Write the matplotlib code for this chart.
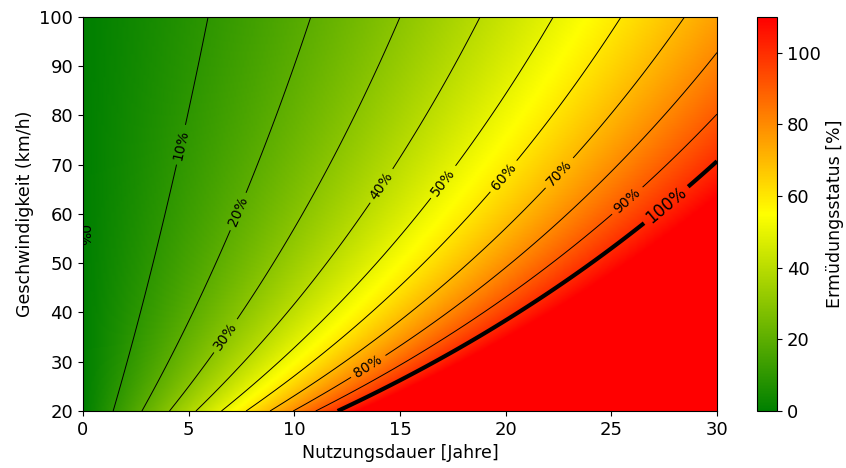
import numpy as np
import matplotlib
matplotlib.use("Agg")
import matplotlib.pyplot as plt
from matplotlib.colors import LinearSegmentedColormap

# year at which 10 % and 70 % fatigue is reached, per speed
speed_kmh = np.array([20, 40, 60, 80, 100])
years_at_10pct = np.array([1.43, 2.70, 3.88, 4.98, 5.90])
years_at_70pct = np.array([8.85, 15.6, 20.35, 25.0, 28.6])

thin_levels = [0, 10, 20, 30, 40, 50, 60, 70, 80, 90]
limit_level = [100]
xticks = [0, 5, 10, 15, 20, 25, 30]
yticks = [20, 30, 40, 50, 60, 70, 80, 90, 100]

# damage = a(v)*t + b(v)*t^2, coefficients solved from the two read levels
a_coef = []
b_coef = []
for t1, t2 in zip(years_at_10pct, years_at_70pct):
    A = np.array([[t1, t1 ** 2], [t2, t2 ** 2]])
    a, b = np.linalg.solve(A, [10.0, 70.0])
    a_coef.append(a)
    b_coef.append(b)

# smooth curve over speed (log-log)
pa = np.polyfit(np.log(speed_kmh), np.log(a_coef), 2)
pb = np.polyfit(np.log(speed_kmh), np.log(b_coef), 2)

t = np.linspace(0, 30, 301)
v = np.linspace(20, 100, 321)
T, V = np.meshgrid(t, v)
Z = np.exp(np.polyval(pa, np.log(V))) * T + np.exp(np.polyval(pb, np.log(V))) * T ** 2

cmap = LinearSegmentedColormap.from_list("gyr", ["green", "yellow", "red"])

fig = plt.figure(figsize=(8.46, 4.68), dpi=100)
ax = fig.add_axes([0.0981, 0.1218, 0.7494, 0.8419])
cax = fig.add_axes([0.8948, 0.1218, 0.0236, 0.8419])

im = ax.imshow(Z, extent=[0, 30, 20, 100], origin="lower", aspect="auto",
               cmap=cmap, vmin=0, vmax=110, interpolation="bilinear")

cs = ax.contour(T, V, Z, levels=thin_levels, colors="black", linewidths=0.7)
ax.clabel(cs, fmt="%d%%", fontsize=10,
          manual=[(0.2, 55.7), (4.7, 74), (7.4, 60.4), (6.7, 35.4), (14.2, 65.5),
                  (17.2, 66), (20.0, 67.3), (22.5, 68.5), (13.3, 30.4), (25.7, 63)])
cs2 = ax.contour(T, V, Z, levels=limit_level, colors="black", linewidths=3)
ax.clabel(cs2, fmt="%d%%", fontsize=12, manual=[(27.6, 61.8)])

ax.set_xlim(0, 30)
ax.set_ylim(20, 100)
ax.set_xticks(xticks)
ax.set_yticks(yticks)
ax.tick_params(labelsize=13)
ax.set_xlabel("Nutzungsdauer [Jahre]", fontsize=12.5)
ax.set_ylabel("Geschwindigkeit (km/h)", fontsize=12.5)

cb = fig.colorbar(im, cax=cax)
cb.set_ticks([0, 20, 40, 60, 80, 100])
cb.ax.tick_params(labelsize=13)
cb.set_label("Ermüdungsstatus [%]", fontsize=12.5)

fig.savefig("out.png", dpi=100)
